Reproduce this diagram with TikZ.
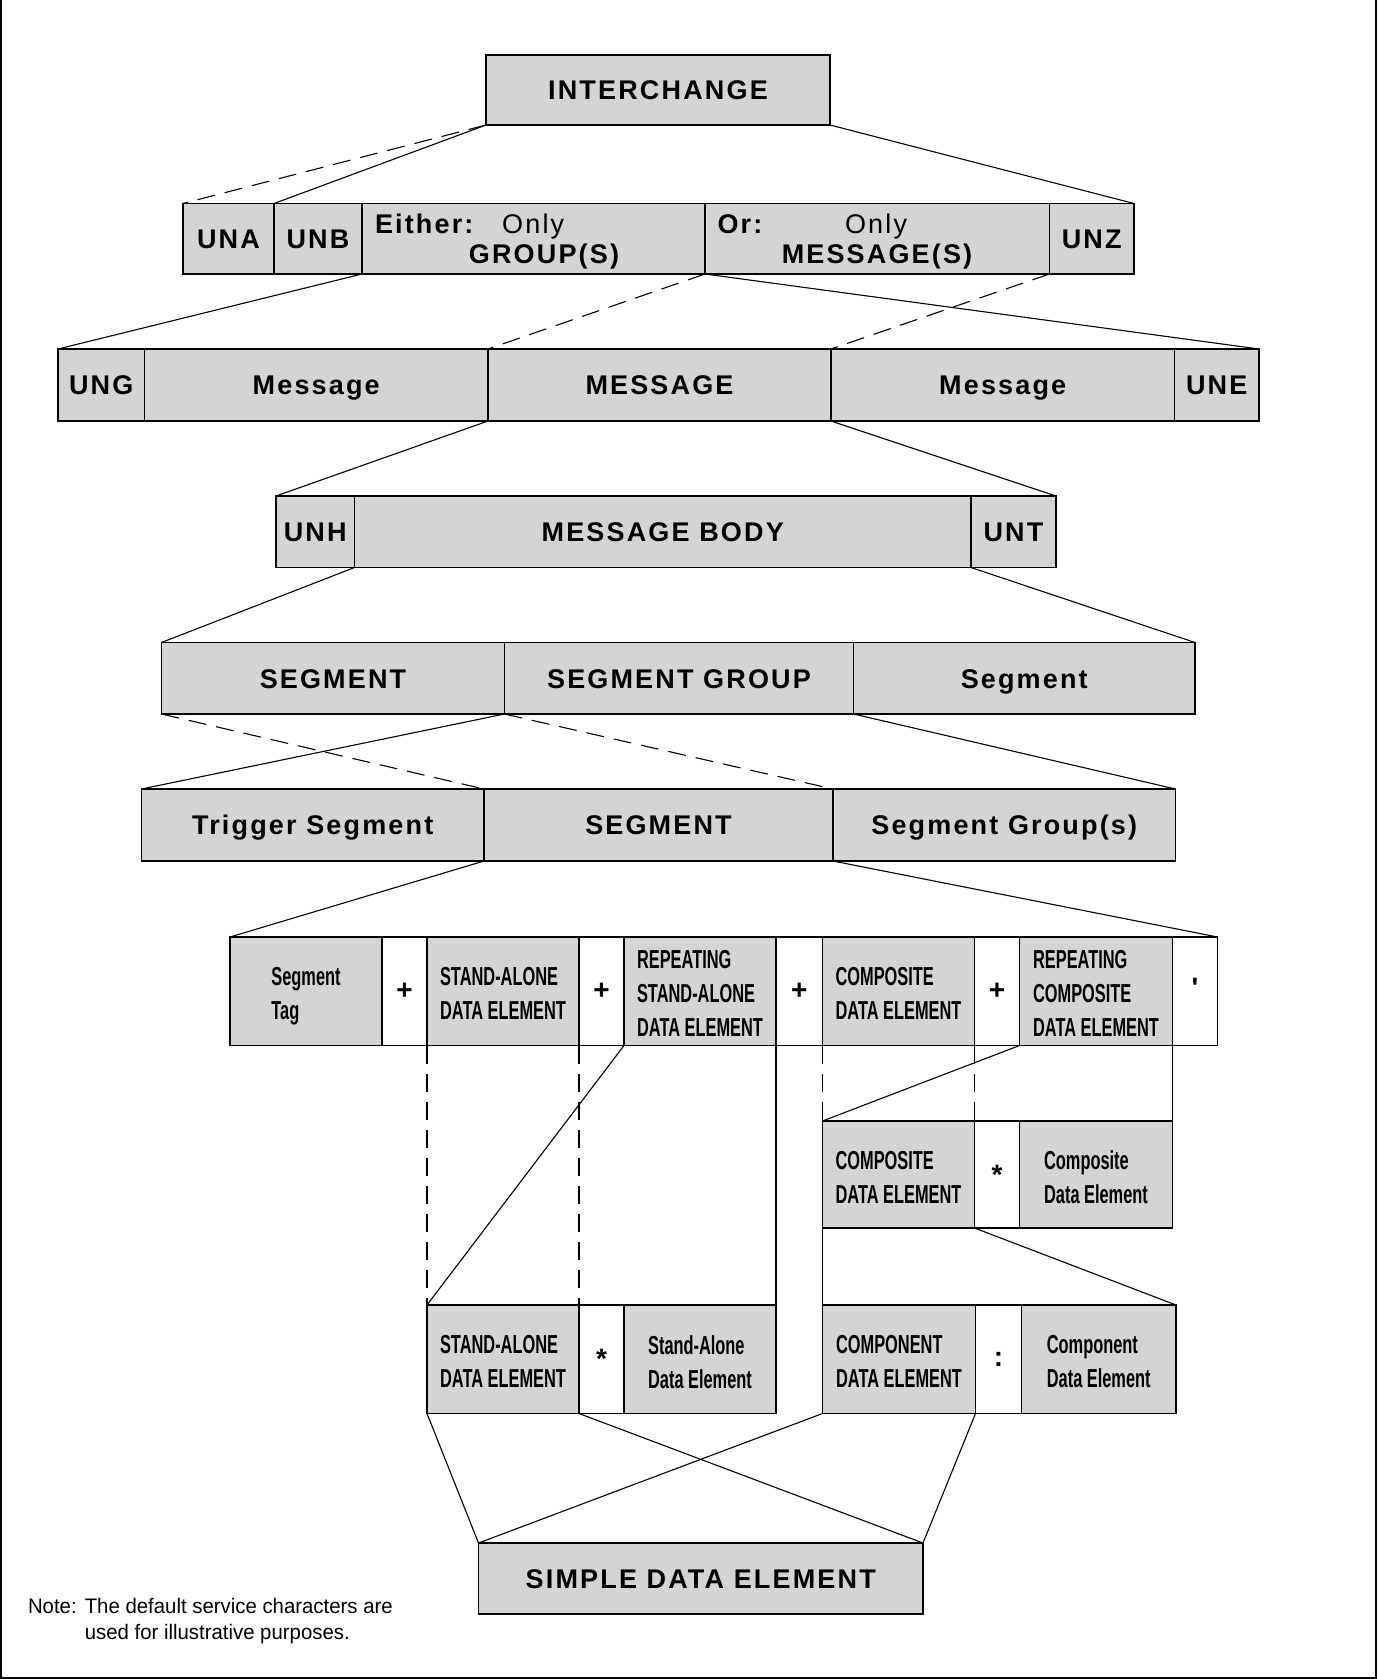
\documentclass[tikz,border=0pt]{standalone}
\usepackage{fontspec}
\setmainfont{Liberation Sans}
\newfontfamily\upfam[LetterSpace=8]{Liberation Sans}
\newfontfamily\lowfam[FakeStretch=0.63]{Liberation Sans}
\newfontfamily\notefam[FakeStretch=0.97]{Liberation Sans}
\definecolor{boxgray}{RGB}{212,212,212}
\tikzset{
  cellbase/.style={draw=black, line width=1.2pt, inner sep=0pt, outer sep=0pt, rectangle},
  gcell/.style={cellbase, fill=boxgray},
  wcell/.style={cellbase, fill=white},
  uptext/.style={font=\upfam\bfseries\fontsize{27}{32}\selectfont},
  upcell/.style={uptext, text height=19.5pt, text depth=0pt},
  upreg/.style={font=\upfam\mdseries\fontsize{27}{32}\selectfont},
  lowtext/.style={font=\lowfam\bfseries\fontsize{26}{34}\selectfont, align=left, text depth=0pt},
  symtext/.style={font=\bfseries\fontsize{28}{32}\selectfont},
  link/.style={line width=1.1pt},
  dlink/.style={link, dash pattern=on 18pt off 10pt},
}
% style, name, x1, y1, x2, y2, text
\newcommand\cellnode[7]{%
  \pgfmathsetmacro\cw{#5-#3}\pgfmathsetmacro\ch{#6-#4}%
  \pgfmathsetmacro\cx{(#3+#5)/2}\pgfmathsetmacro\cy{(#4+#6)/2}%
  \node[#1, minimum width=\cw pt, minimum height=\ch pt] (#2) at (\cx,\cy) {#7};}
% lower cells: same, text shifted a little down
\newcommand\lowcell[7]{%
  \pgfmathsetmacro\cw{#5-#3}\pgfmathsetmacro\ch{#6-#4}%
  \pgfmathsetmacro\cx{(#3+#5)/2}\pgfmathsetmacro\cy{(#4+#6)/2}%
  \node[#1, minimum width=\cw pt, minimum height=\ch pt] (#2) at (\cx,\cy) {};
  \node[lowtext, inner sep=0pt] (#2-t) at (\cx,\cy+2.5) {#7};}
\begin{document}
\begin{tikzpicture}[x=1pt,y=-1pt]
\useasboundingbox (0,0) rectangle (1377,1679);
% frame
\draw[line width=2.2pt] (1.1,0) -- (1.1,1677.9) -- (1375.9,1677.9) -- (1375.9,0);

% Level 1
\cellnode{gcell, upcell}{interchange}{486}{55}{830}{125}{INTERCHANGE}
% Level 2
\cellnode{gcell, upcell}{una}{183}{203.5}{274}{274}{UNA}
\cellnode{gcell, upcell}{unb}{274}{203.5}{362}{274}{UNB}
\cellnode{gcell}{either}{362}{203.5}{705}{274}{}
\cellnode{gcell}{or}{705}{203.5}{1049.5}{274}{}
\cellnode{gcell, upcell}{unz}{1049.5}{203.5}{1134}{274}{UNZ}
\node[uptext, anchor=base west, inner sep=0] (eitherA) at (374.8,233.7) {Either:};
\node[upreg, anchor=base west, inner sep=0] (eitherB) at (502,233.7) {Only};
\node[uptext, anchor=base, inner sep=0] (eitherC) at (544,263.7) {GROUP(S)};
\node[uptext, anchor=base west, inner sep=0] (orA) at (717.4,233.7) {Or:};
\node[upreg, anchor=base west, inner sep=0] (orB) at (844.9,233.7) {Only};
\node[uptext, anchor=base, inner sep=0] (orC) at (877,263.7) {MESSAGE(S)};
% Level 3
\cellnode{gcell, upcell}{ung}{58}{349}{144.5}{421}{UNG}
\cellnode{gcell, upcell}{msgA}{144.5}{349}{488}{421}{Message}
\cellnode{gcell, upcell}{msg}{488}{349}{831}{421}{MESSAGE}
\cellnode{gcell, upcell}{msgB}{831}{349}{1174.5}{421}{Message}
\cellnode{gcell, upcell}{une}{1174.5}{349}{1259}{421}{UNE}
% Level 4
\cellnode{gcell, upcell}{unh}{276}{496}{354.5}{567.5}{UNH}
\cellnode{gcell, upcell}{body}{354.5}{496}{971}{567.5}{MESSAGE BODY}
\cellnode{gcell, upcell}{unt}{971}{496}{1056}{567.5}{UNT}
% Level 5
\cellnode{gcell, upcell}{seg}{161.5}{642.5}{504.5}{714}{SEGMENT}
\cellnode{gcell, upcell}{seggrp}{504.5}{642.5}{853.5}{714}{SEGMENT GROUP}
\cellnode{gcell, upcell}{segB}{853.5}{642.5}{1195}{714}{Segment}
% Level 6
\cellnode{gcell, upcell}{trig}{141.5}{789}{484}{861}{Trigger Segment}
\cellnode{gcell, upcell}{seg2}{484}{789}{833}{861}{SEGMENT}
\cellnode{gcell, upcell}{seggrps}{833}{789}{1175.5}{861}{Segment Group(s)}
% Level 7
\lowcell{gcell}{tag}{230}{937}{382}{1045.5}{Segment\\Tag}
\cellnode{wcell, symtext}{plusA}{382}{937}{427}{1045.5}{+}
\lowcell{gcell}{sa}{427}{937}{579}{1045.5}{STAND-ALONE\\DATA ELEMENT}
\cellnode{wcell, symtext}{plusB}{579}{937}{624}{1045.5}{+}
\lowcell{gcell}{rsa}{624}{937}{776}{1045.5}{REPEATING\\STAND-ALONE\\DATA ELEMENT}
\cellnode{wcell, symtext}{plusC}{776}{937}{822.5}{1045.5}{+}
\lowcell{gcell}{cde}{822.5}{937}{974.5}{1045.5}{COMPOSITE\\DATA ELEMENT}
\cellnode{wcell, symtext}{plusD}{974.5}{937}{1019.5}{1045.5}{+}
\lowcell{gcell}{rcde}{1019.5}{937}{1172.5}{1045.5}{REPEATING\\COMPOSITE\\DATA ELEMENT}
\cellnode{wcell, symtext}{term}{1172.5}{937}{1217.5}{1045.5}{\raisebox{6pt}{\textquotesingle}}
% Level 8
\lowcell{gcell}{cdeL}{822.5}{1121}{974.5}{1228}{COMPOSITE\\DATA ELEMENT}
\cellnode{wcell, symtext}{starA}{974.5}{1121}{1019.5}{1228}{*}
\lowcell{gcell}{cdeR}{1019.5}{1121}{1172.5}{1228}{Composite\\Data Element}
% Level 9
\lowcell{gcell}{saL}{427}{1305}{579}{1413.5}{STAND-ALONE\\DATA ELEMENT}
\cellnode{wcell, symtext}{starB}{579}{1305}{624}{1413.5}{*}
\lowcell{gcell}{saR}{624}{1305}{776}{1413.5}{Stand-Alone\\Data Element}
\lowcell{gcell}{compL}{822.5}{1305}{975.5}{1413.5}{COMPONENT\\DATA ELEMENT}
\cellnode{wcell, symtext}{colon}{975.5}{1305}{1021.5}{1413.5}{:}
\lowcell{gcell}{compR}{1021.5}{1305}{1176}{1413.5}{Component\\Data Element}
% Level 10
\cellnode{gcell, upcell}{simple}{478.5}{1543}{923}{1614}{SIMPLE DATA ELEMENT}

% Note
\node[anchor=base west, inner sep=0, font=\notefam\fontsize{21}{26}\selectfont] (note) at (27.8,1613.5)
  {\begin{tabular}[t]{@{}p{56.8pt}@{}l@{}}Note: & The default service characters are\\ & used for illustrative purposes.\end{tabular}};

% Connectors L1 -> L2
\draw[dlink] (interchange.south west) -- (una.north west);
\draw[link] (interchange.south west) -- (unb.north west);
\draw[link] (interchange.south east) -- (unz.north east);
% L2 -> L3
\draw[link] (either.south west) -- (ung.north west);
\draw[dlink] (or.south west) -- (msg.north west);
\draw[link] (or.south west) -- (une.north east);
\draw[dlink] (unz.south west) -- (msg.north east);
% L3 -> L4
\draw[link] (msg.south west) -- (unh.north west);
\draw[link] (msg.south east) -- (unt.north east);
% L4 -> L5
\draw[link] (body.south west) -- (seg.north west);
\draw[link] (body.south east) -- (segB.north east);
% L5 -> L6
\draw[dlink] (seg.south west) -- (seg2.north west);
\draw[link] (seggrp.south west) -- (trig.north west);
\draw[dlink] (seggrp.south west) -- (seggrps.north west);
\draw[link] (segB.south west) -- (seggrps.north east);
% L6 -> L7
\draw[link] (seg2.south west) -- (tag.north west);
\draw[link] (seg2.south east) -- (term.north east);
% L7 -> L9 left
\draw[dlink] (sa.south west) -- (saL.north west);
\draw[dlink] (sa.south east) -- (saL.north east);
\draw[link] (rsa.south west) -- (saL.north west);
\draw[link] (rsa.south east) -- (saR.north east);
% L7 -> L8
\draw[dlink] (cde.south west) -- (cdeL.north west);
\draw[dlink] (cde.south east) -- (cdeL.north east);
\draw[link] (rcde.south west) -- (cdeL.north west);
\draw[link] (rcde.south east) -- (cdeR.north east);
% L8 -> L9
\draw[link] (cdeL.south west) -- (compL.north west);
\draw[link] (cdeL.south east) -- (compR.north east);
% L9 -> L10
\draw[link] (saL.south west) -- (simple.north west);
\draw[link] (saL.south east) -- (simple.north east);
\draw[link] (compL.south west) -- (simple.north west);
\draw[link] (compL.south east) -- (simple.north east);
\end{tikzpicture}
\end{document}
